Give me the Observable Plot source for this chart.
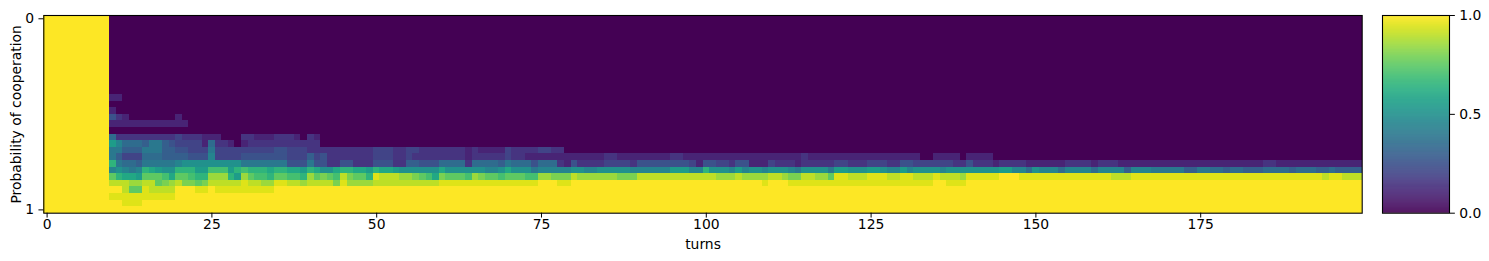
<!DOCTYPE html>
<html><head><meta charset="utf-8">
<script src="https://cdn.jsdelivr.net/npm/d3@7"></script>
<script src="https://cdn.jsdelivr.net/npm/@observablehq/plot@0.6"></script>
<style>
body{margin:0;background:#fff;}
#wrap{position:relative;width:1489px;height:261px;}
#wrap svg{position:absolute;top:0;}
</style></head><body><div id="wrap"></div>
<script>
const R = (c, n) => c.repeat(n);
// categories
const turns = Array.from({length: 200}, (_, i) => i);
const rows = Array.from({length: 30}, (_, i) => i);
// tick labels
const xTicks = [0, 25, 50, 75, 100, 125, 150, 175];
const yTickRows = [0, 29];
const yTickLabels = ["0", "1"];
const cbTicks = [0, 0.5, 1];
// value codes: index in this string / 20 = probability
const levels = "0123456789ABCDEFGHIJK";
const head = R("K", 10);
// one string per row (row 0 at top), one character per turn
const rowCodes = [
  head + R("0",190), head + R("0",190), head + R("0",190), head + R("0",190),
  head + R("0",190), head + R("0",190), head + R("0",190), head + R("0",190),
  head + R("0",190), head + R("0",190), head + R("0",190), head + R("0",190),
  head + "22" + R("0",188),
  head + R("0",190),
  head + "2" + R("0",189),
  head + "532" + R("0",7) + "2" + R("0",179),
  head + R("2",12) + R("0",178),
  head + R("0",190),
  head + "7" + R("3",9) + "4" + "333222" + "000" + "33" + "222" + "333" + "2" + "0" + "3" + "2" + R("0",158),
  head + "B9777688654444" + "27332" + "0" + "2" + R("3",11) + R("0",158),
  head + "8866688866554" + "448" + "4444" + "44444" + "554" + "4433"
       + "33333333" + "444" + "33" + "44" + "3333333" + "2" + "3" + "2222" + "4" + "3" + "33"
       + "34433" + R("0",27) + R("0",94),
  head + "8644477766665" + "559" + "4444" + "55555" + "554" + "4464"
       + "5" + R("3",7) + "444" + "33" + "4" + R("3",8) + "2" + "3" + "3333" + "4" + "33" + "2"
       + R("2",11) + "33" + R("2",8) + "33" + R("2",9)
       + R("2",9) + "3" + R("2",17) + "00" + "222"
       + "20" + "2222" + R("0",26) + R("0",30),
  head + "D8776888889AA" + "AAA" + "AAAA" + "88888" + "885" + "5585"
       + "53355333555336655577773777768777"
       + "5777325333344443" + "55555555" + "4" + "2" + "55" + "44" + "3" + "5"
       + "5" + "222" + "4" + "333" + "2" + "33333" + "44" + "333" + "444" + "33" + "55" + "444444"
       + "335333" + "2" + "3333" + "222222" + "3333" + "2" + "333" + "2222222"
       + R("2",15) + "33" + R("2",13),
  head + "9A989DCBAADDD" + "BB" + "EEE" + "B" + "D" + "E" + "DDD" + "C" + "DD" + "CC" + "B" + "D" + "C"
       + "AACDDCCBDCCBAAAAAACAAAAAA99ACAAA"
       + "899999AA99AAAAA999999BBB99DAAA9B"
       + "9AA9AAA98AAAA8BBAAABBA99B9AAAA9A"
       + "AAAAAAA" + "BB" + "99" + "7" + "A" + "999" + "7" + "9999" + "7" + "9999" + "6" + "9" + "99" + "88"
       + "888" + "66" + "88" + "77" + "6" + "77" + "666" + "7777" + "6" + "777" + "66" + "7" + "6666",
  head + "FDCCBFFFECFFEDDHHHDBHFEEDFFEEDHF"
       + "GFEIGFFDJIIIHHGFECGFFFEHGFFEFFFE"
       + "EHHGGGI" + R("H",6) + "GGG" + R("I",12) + "HHH" + "I"
       + "HHHHIIHGGIIHHFJJIIIJJJIIJJIIIJII"
       + "IH" + "JJJJJ" + "KKK" + R("J",14) + "III" + "JJJJJ"
       + R("J",24) + "I" + "JJ" + "III",
  head + "IIIHHIIFGHIGGFGIIIIIJIIHHJJIIHII"
       + "IIGJHHHH" + R("I",10) + R("J",14)
       + "JKKKJJ" + R("K",26)
       + "KKKJKKK" + R("J",22) + "KK" + "J"
       + "JJ" + R("K",30)
       + R("K",30),
  head + "KKIFFJIIIIKKKJJK" + R("J",9) + R("K",7) + R("K",158),
  head + R("J",10) + R("K",180),
  head + "KKJJJ" + R("K",185),
  R("K",200)
];
rowCodes.forEach((s, i) => { if (s.length !== 200) throw new Error("row " + i + " has length " + s.length); });

const cells = rows.flatMap(r => turns.map(t => ({turn: t, row: r, value: levels.indexOf(rowCodes[r][t]) / 20})));

const fontStyle = {fontFamily: "'DejaVu Sans', sans-serif", fontSize: "13.9px", color: "black", background: "transparent", overflow: "visible"};
const colorOpts = {type: "linear", scheme: "viridis", domain: [0, 1]};

const main = Plot.plot({
  width: 1489, height: 261,
  marginLeft: 43.3, marginRight: 127.3, marginTop: 15, marginBottom: 48.3,
  style: fontStyle,
  x: {type: "band", domain: turns, padding: 0, round: false, axis: null},
  y: {type: "band", domain: rows, padding: 0, round: false, axis: null},
  color: colorOpts,
  marks: [
    Plot.cell(cells, {x: "turn", y: "row", fill: "value", inset: 0, shapeRendering: "crispEdges"}),
    Plot.frame({stroke: "black", strokeWidth: 1.1}),
    Plot.axisX(xTicks, {anchor: "bottom", tickSize: 4.86, tickPadding: 1.5, label: null}),
    Plot.axisY(yTickRows, {anchor: "left", tickSize: 4.86, tickPadding: 4.86, tickFormat: d => yTickLabels[yTickRows.indexOf(d)], label: null}),
    Plot.text(["turns"], {frameAnchor: "bottom", text: d => d, dy: 31, lineAnchor: "middle", textAnchor: "middle", fill: "black"}),
    Plot.text(["Probability of cooperation"], {frameAnchor: "left", text: d => d, rotate: -90, dx: -27, lineAnchor: "middle", textAnchor: "middle", fill: "black"})
  ]
});

const cbStep = 0.0025;
const cbSamples = d3.range(0, 1, cbStep);
const cb = Plot.plot({
  width: 110, height: 261,
  marginLeft: 2, marginRight: 41, marginTop: 15, marginBottom: 48.3,
  style: fontStyle,
  x: {domain: [0, 1], axis: null},
  y: {domain: [0, 1], axis: null},
  color: colorOpts,
  marks: [
    Plot.rect(cbSamples, {x1: 0, x2: 1, y1: d => d, y2: d => Math.min(1, d + cbStep * 1.5), fill: d => d + cbStep / 2}),
    Plot.frame({stroke: "black", strokeWidth: 1.1}),
    Plot.axisY(cbTicks, {anchor: "right", tickSize: 4.86, tickPadding: 4.86, tickFormat: d3.format(".1f"), label: null})
  ]
});
const wrap = document.getElementById("wrap");
main.style.left = "0px";
cb.style.left = "1380.3px";
wrap.appendChild(main);
wrap.appendChild(cb);
</script>
</body></html>
